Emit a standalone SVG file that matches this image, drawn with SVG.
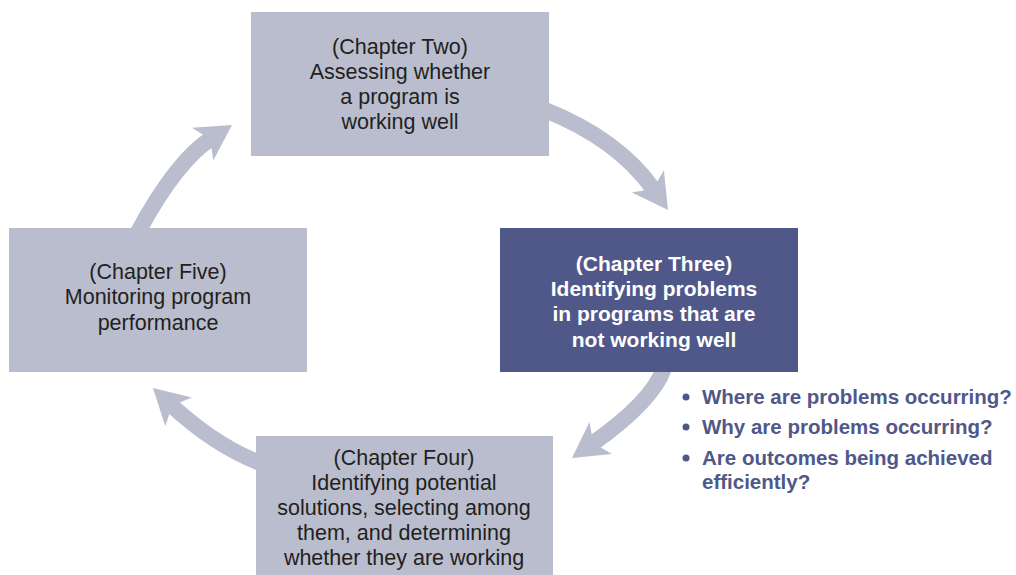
<svg xmlns="http://www.w3.org/2000/svg" width="1016" height="575" viewBox="0 0 1016 575">
<style>
.box{fill:#b9bdcd}
.dark{fill:#4f5889}
.t{font-family:"Liberation Sans",Arial,sans-serif;font-size:21.5px;fill:#231f20;text-anchor:middle}
.tw{font-family:"Liberation Sans",Arial,sans-serif;font-size:21px;font-weight:bold;fill:#ffffff;text-anchor:middle}
.b{font-family:"Liberation Sans",Arial,sans-serif;font-size:20.5px;font-weight:bold;fill:#4f5889}
.band{fill:none;stroke:#b9bdcd;stroke-width:16}
.head{fill:#b9bdcd}
</style>
<defs>
<path id="ah" d="M0,0 L-35,-19.5 L-26,0 L-35,19.5 Z"/>
</defs>
<rect width="1016" height="575" fill="#ffffff"/>
<g id="connectors">
<path class="band" d="M545,110 Q618,139 654,190"/>
<use href="#ah" class="head" transform="translate(668,210) rotate(55)"/>
<path class="band" d="M664,368 Q653,401 592,444"/>
<use href="#ah" class="head" transform="translate(572,458) rotate(145)"/>
<path class="band" d="M260,463 Q214,445 170,404"/>
<use href="#ah" class="head" transform="translate(153,388) rotate(223)"/>
<path class="band" d="M138,232 Q177,160 212,138"/>
<use href="#ah" class="head" transform="translate(232,125) rotate(-33)"/>
</g>
<g id="node-two">
<rect class="box" x="251" y="12" width="298" height="144"/>
<text class="t" x="400" y="54">(Chapter Two)</text>
<text class="t" x="400" y="79">Assessing whether</text>
<text class="t" x="400" y="104">a program is</text>
<text class="t" x="400" y="129">working well</text>
</g>
<g id="node-three">
<rect class="dark" x="500" y="228" width="298" height="144"/>
<text class="tw" x="654" y="271">(Chapter Three)</text>
<text class="tw" x="654" y="296">Identifying problems</text>
<text class="tw" x="654" y="321">in programs that are</text>
<text class="tw" x="654" y="347">not working well</text>
</g>
<g id="node-five">
<rect class="box" x="9" y="228" width="298" height="144"/>
<text class="t" x="158" y="279">(Chapter Five)</text>
<text class="t" x="158" y="304">Monitoring program</text>
<text class="t" x="158" y="330">performance</text>
</g>
<g id="node-four">
<rect class="box" x="256" y="436" width="297" height="139"/>
<text class="t" x="404" y="465">(Chapter Four)</text>
<text class="t" x="404" y="490">Identifying potential</text>
<text class="t" x="404" y="515">solutions, selecting among</text>
<text class="t" x="404" y="540">them, and determining</text>
<text class="t" x="404" y="565">whether they are working</text>
</g>
<g id="bullets">
<circle cx="686" cy="397" r="3.5" fill="#4f5889"/>
<circle cx="686" cy="427" r="3.5" fill="#4f5889"/>
<circle cx="686" cy="458" r="3.5" fill="#4f5889"/>
<text class="b" x="702" y="404">Where are problems occurring?</text>
<text class="b" x="702" y="434">Why are problems occurring?</text>
<text class="b" x="702" y="465">Are outcomes being achieved</text>
<text class="b" x="702" y="489">efficiently?</text>
</g>
</svg>
